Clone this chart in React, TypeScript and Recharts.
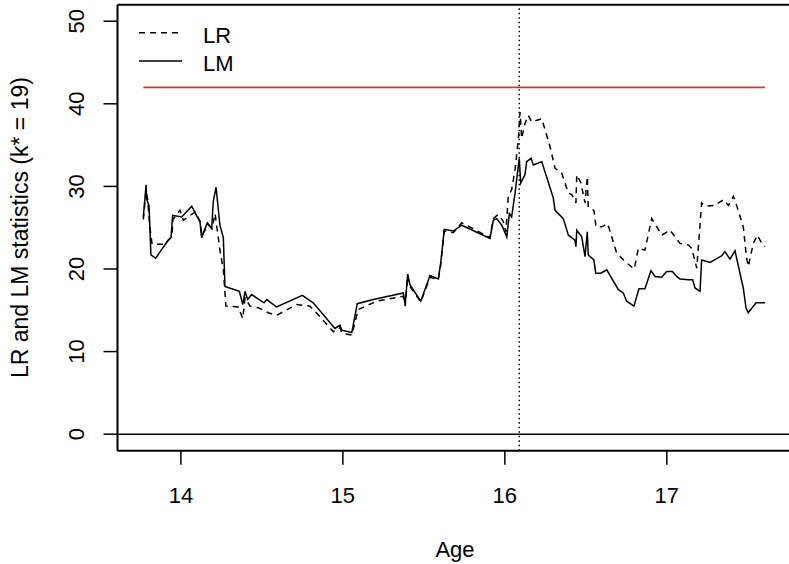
import { LineChart, Line, XAxis, YAxis, ReferenceLine } from 'recharts';

// values
const lmAge = [
  13.768, 13.785, 13.789, 13.803, 13.815, 13.844, 13.922, 13.939, 13.949, 14.005,
  14.067, 14.101, 14.118, 14.128, 14.163, 14.19, 14.2, 14.217, 14.241, 14.262,
  14.272, 14.361, 14.382, 14.396, 14.412, 14.437, 14.513, 14.53, 14.591, 14.75,
  14.817, 14.951, 14.982, 14.993, 15.055, 15.089, 15.188, 15.373, 15.385, 15.4,
  15.414, 15.481, 15.538, 15.589, 15.604, 15.626, 15.682, 15.734, 15.908, 15.929,
  15.95, 15.981, 16.012, 16.028, 16.042, 16.063, 16.073, 16.089, 16.098, 16.124,
  16.135, 16.162, 16.176, 16.228, 16.299, 16.31, 16.361, 16.392, 16.433, 16.439,
  16.444, 16.475, 16.495, 16.509, 16.515, 16.55, 16.561, 16.592, 16.629, 16.701,
  16.731, 16.752, 16.797, 16.828, 16.865, 16.902, 16.927, 16.969, 16.999, 17.034,
  17.061, 17.081, 17.133, 17.16, 17.174, 17.205, 17.215, 17.267, 17.339, 17.359,
  17.39, 17.421, 17.472, 17.489, 17.503, 17.551, 17.606,
];
const lmValue = [
  26.3, 30.2, 28.4, 27.7, 21.7, 21.3, 23.5, 23.8, 26.5, 26.3,
  27.6, 26.3, 25.7, 23.8, 25.6, 24.9, 28.2, 29.9, 25.3, 23.8,
  17.9, 17.3, 15.7, 17.3, 16.3, 16.9, 15.9, 16.3, 15.4, 16.8,
  15.9, 12.8, 13.2, 12.6, 12.3, 15.8, 16.3, 17.1, 15.7, 19.4,
  18.1, 16.1, 19.2, 18.8, 20.7, 24.8, 24.6, 25.3, 23.7, 25.9,
  26.1, 25.3, 23.9, 26.7, 26.3, 29.2, 30.8, 33.4, 30.4, 31.4,
  33.0, 33.4, 32.6, 33.0, 28.6, 27.1, 26.1, 24.1, 23.5, 22.7,
  24.7, 23.9, 21.5, 24.5, 21.7, 21.1, 19.5, 19.5, 19.9, 17.5,
  17.1, 16.1, 15.5, 17.6, 17.6, 19.8, 19.1, 19.0, 19.7, 19.7,
  19.1, 18.8, 18.7, 18.7, 17.7, 17.3, 21.1, 20.8, 21.6, 22.1,
  21.2, 22.2, 17.7, 15.3, 14.7, 15.9, 15.9,
];

const lrAge = [
  13.768, 13.785, 13.794, 13.809, 13.822, 13.902, 13.945, 13.951, 13.994, 14.015,
  14.087, 14.118, 14.13, 14.167, 14.192, 14.211, 14.241, 14.262, 14.278, 14.354,
  14.382, 14.396, 14.427, 14.478, 14.54, 14.591, 14.715, 14.797, 14.879, 14.941,
  14.982, 14.995, 15.055, 15.095, 15.209, 15.373, 15.385, 15.4, 15.414, 15.481,
  15.538, 15.589, 15.604, 15.626, 15.682, 15.734, 15.908, 15.929, 15.958, 15.989,
  16.007, 16.021, 16.042, 16.063, 16.083, 16.094, 16.104, 16.124, 16.145, 16.166,
  16.228, 16.279, 16.31, 16.351, 16.392, 16.413, 16.439, 16.444, 16.47, 16.495,
  16.509, 16.515, 16.55, 16.563, 16.598, 16.635, 16.691, 16.742, 16.799, 16.824,
  16.865, 16.907, 16.969, 17.02, 17.081, 17.133, 17.154, 17.185, 17.215, 17.242,
  17.298, 17.349, 17.38, 17.411, 17.431, 17.472, 17.493, 17.503, 17.534, 17.559,
  17.586, 17.606,
];
const lrValue = [
  26.0, 29.5, 28.5, 25.0, 23.0, 23.0, 24.0, 26.0, 27.1, 25.9,
  26.9, 25.8, 24.0, 25.4, 24.9, 26.7, 22.3, 19.9, 15.5, 15.4,
  14.0, 16.5, 15.5, 15.3, 14.7, 14.4, 15.7, 15.5, 13.8, 12.4,
  12.9, 12.2, 12.0, 15.1, 16.1, 16.7, 15.5, 19.2, 17.9, 16.0,
  19.0, 18.7, 20.5, 24.6, 24.4, 25.6, 23.8, 26.1, 26.6, 25.8,
  24.5, 28.8, 29.6, 32.0, 35.6, 39.0, 35.8, 37.6, 38.6, 37.8,
  38.2, 34.8, 32.2, 31.6, 29.2, 29.0, 28.0, 31.4, 30.4, 28.0,
  31.2, 27.5, 27.1, 25.1, 25.1, 25.5, 21.9, 20.9, 20.0, 22.5,
  22.3, 26.1, 24.1, 24.7, 23.1, 22.9, 22.5, 20.1, 28.0, 27.6,
  27.7, 28.4, 27.7, 28.8, 27.7, 25.1, 21.3, 20.3, 23.1, 24.1,
  23.1, 22.7,
];

const xTicks = [14, 15, 16, 17];
const yTicks = [0, 10, 20, 30, 40, 50];
const criticalValue = 42;
const breakAge = 16.089;
const xDomain = [13.6086, 17.7544];
const yDomain = [-2, 52];

const lmData = lmAge.map((age, i) => ({ age, value: lmValue[i] }));
const lrData = lrAge.map((age, i) => ({ age, value: lrValue[i] }));

const FONT = "'Liberation Sans', Arial, Helvetica, sans-serif";

const XTick = (props: any) => {
  const { x, payload } = props;
  return (
    <text x={x} y={502.7} textAnchor="middle" fontSize={22} fontFamily={FONT} fill="#000">
      {payload.value}
    </text>
  );
};

const YTick = (props: any) => {
  const { y, payload } = props;
  return (
    <text
      x={84}
      y={y}
      transform={`rotate(-90, 84, ${y})`}
      textAnchor="middle"
      fontSize={22}
      fontFamily={FONT}
      fill="#000"
    >
      {payload.value}
    </text>
  );
};

const AgeLabel = () => (
  <text x={455} y={557} textAnchor="middle" fontSize={22} fontFamily={FONT} fill="#000">
    Age
  </text>
);

const YLabel = () => (
  <text
    x={28.3}
    y={227.6}
    transform="rotate(-90, 28.3, 227.6)"
    textAnchor="middle"
    fontSize={23}
    fontFamily={FONT}
    fill="#000"
  >
    LR and LM statistics (k* = 19)
  </text>
);

const App = () => {
  return (
    <div style={{ position: 'absolute', left: 0, top: 0, width: 789, height: 564, background: '#fff' }}>
      <LineChart width={789} height={564} margin={{ top: 4.7, right: 0, left: 0, bottom: 0 }}>
        <XAxis
          dataKey="age"
          type="number"
          domain={xDomain}
          ticks={xTicks}
          allowDataOverflow
          height={113.3}
          axisLine={false}
          tickSize={14}
          tickLine={{ stroke: '#000', strokeWidth: 1.5 }}
          tick={<XTick />}
          label={<AgeLabel />}
        />
        <YAxis
          type="number"
          domain={yDomain}
          ticks={yTicks}
          allowDataOverflow
          width={117.5}
          axisLine={false}
          tickSize={14}
          tickLine={{ stroke: '#000', strokeWidth: 1.5 }}
          tick={<YTick />}
          label={<YLabel />}
        />
        {/* plot box (right side falls outside the picture) */}
        <ReferenceLine y={yDomain[1]} stroke="#000" strokeWidth={2} />
        <ReferenceLine y={yDomain[0]} stroke="#000" strokeWidth={2} />
        <ReferenceLine x={xDomain[0]} stroke="#000" strokeWidth={2} />
        <ReferenceLine y={0} stroke="#000" strokeWidth={1.5} />
        <ReferenceLine x={breakAge} stroke="#000" strokeWidth={1.5} strokeDasharray="1.5 3" />
        <ReferenceLine
          segment={[
            { x: lmAge[0], y: criticalValue },
            { x: lmAge[lmAge.length - 1], y: criticalValue },
          ]}
          stroke="#e32d2d"
          strokeWidth={1.8}
        />
        <Line
          data={lrData}
          dataKey="value"
          type="linear"
          stroke="#000"
          strokeWidth={1.5}
          strokeDasharray="6 5"
          dot={false}
          activeDot={false}
          isAnimationActive={false}
          name="LR"
        />
        <Line
          data={lmData}
          dataKey="value"
          type="linear"
          stroke="#000"
          strokeWidth={1.5}
          dot={false}
          activeDot={false}
          isAnimationActive={false}
          name="LM"
        />
      </LineChart>
      <svg width={200} height={90} style={{ position: 'absolute', left: 120, top: 0 }}>
        <line x1={19} y1={32.7} x2={60} y2={32.7} stroke="#000" strokeWidth={1.5} strokeDasharray="6 5" />
        <line x1={19} y1={61} x2={62} y2={61} stroke="#000" strokeWidth={1.5} />
        <text x={83} y={42.7} fontSize={22} fontFamily={FONT} fill="#000">LR</text>
        <text x={83} y={70.7} fontSize={22} fontFamily={FONT} fill="#000">LM</text>
      </svg>
    </div>
  );
};

export default App;
